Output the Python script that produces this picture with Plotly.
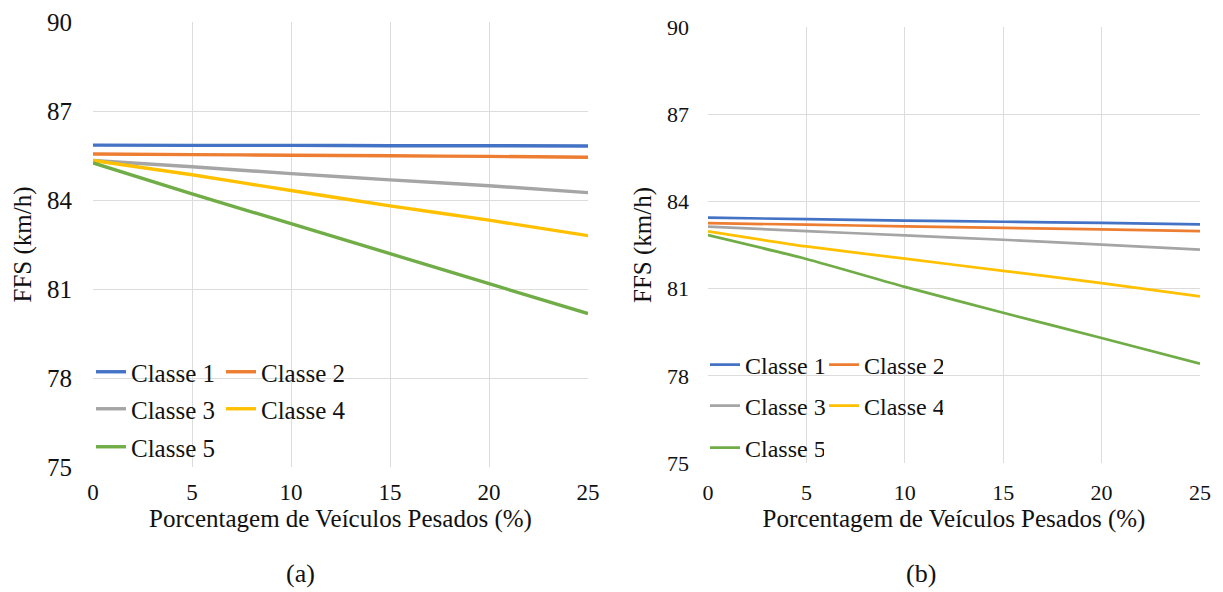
import plotly.graph_objects as go

W, H = 1223, 592

x_pct = [0, 5, 10, 15, 20, 25]
classes = ["Classe 1", "Classe 2", "Classe 3", "Classe 4", "Classe 5"]
colors = ["#4472C4", "#ED7D31", "#A5A5A5", "#FFC000", "#70AD47"]

# Panel (a)
ffs_a_c1 = [85.85, 85.84, 85.84, 85.83, 85.83, 85.82]
ffs_a_c2 = [85.55, 85.53, 85.51, 85.49, 85.47, 85.44]
ffs_a_c3 = [85.33, 85.12, 84.89, 84.68, 84.48, 84.25]
ffs_a_c4 = [85.33, 84.85, 84.32, 83.80, 83.32, 82.80]
ffs_a_c5 = [85.25, 84.21, 83.20, 82.19, 81.18, 80.17]

# Panel (b)
ffs_b_c1 = [83.44, 83.39, 83.34, 83.30, 83.26, 83.21]
ffs_b_c2 = [83.25, 83.20, 83.14, 83.09, 83.04, 82.98]
ffs_b_c3 = [83.13, 82.98, 82.83, 82.68, 82.51, 82.34]
ffs_b_c4 = [82.97, 82.45, 82.03, 81.61, 81.19, 80.73]
ffs_b_c5 = [82.84, 82.02, 81.06, 80.17, 79.30, 78.42]

y_ticks = [75, 78, 81, 84, 87, 90]
x_ticks = [0, 5, 10, 15, 20, 25]
x_title = "Porcentagem de Veículos Pesados (%)"
y_title = "FFS (km/h)"
captions = ["(a)", "(b)"]

FONT = "Liberation Serif"
TXT = "#111111"

series_a = [ffs_a_c1, ffs_a_c2, ffs_a_c3, ffs_a_c4, ffs_a_c5]
series_b = [ffs_b_c1, ffs_b_c2, ffs_b_c3, ffs_b_c4, ffs_b_c5]

# legend row assignment: rows of two items
row_of = [0, 0, 1, 1, 2]

fig = go.Figure()
for i, (name, col, ys) in enumerate(zip(classes, colors, series_a)):
    fig.add_trace(go.Scatter(
        x=x_pct, y=ys, mode="lines", name=name,
        line=dict(color=col, width=3.4, shape="spline", smoothing=0.6),
        xaxis="x", yaxis="y",
        legend="legend" if row_of[i] == 0 else f"legend{row_of[i] + 1}",
    ))
for i, (name, col, ys) in enumerate(zip(classes, colors, series_b)):
    fig.add_trace(go.Scatter(
        x=x_pct, y=ys, mode="lines", name=name,
        line=dict(color=col, width=2.7, shape="spline", smoothing=0.6),
        xaxis="x2", yaxis="y2",
        legend=f"legend{row_of[i] + 4}",
    ))

grid = "#dcdcdc"

def xaxis_cfg(domain, anchor, size, standoff):
    return dict(
        domain=domain, anchor=anchor, range=[0, 25], tickvals=x_ticks,
        showgrid=True, gridcolor=grid, gridwidth=1, zeroline=False,
        showline=False, ticks="", ticklabelstandoff=standoff, automargin=False,
        tickfont=dict(family=FONT, size=size, color=TXT),
        title=dict(text=x_title, standoff=0,
                   font=dict(family=FONT, size=25, color=TXT)),
    )

def yaxis_cfg(domain, anchor, size, standoff):
    return dict(
        domain=domain, anchor=anchor, range=[75, 90], tickvals=y_ticks,
        showgrid=True, gridcolor=grid, gridwidth=1, zeroline=False,
        showline=False, ticks="", ticklabelstandoff=standoff, automargin=False,
        tickfont=dict(family=FONT, size=size, color=TXT),
        title=dict(text=y_title, standoff=8,
                   font=dict(family=FONT, size=25, color=TXT)),
    )

def px_x(v):
    return v / W

def px_y(v):
    return 1 - v / H

layout = dict(
    template="none",
    width=W, height=H,
    margin=dict(l=0, r=0, t=0, b=0, autoexpand=False),
    paper_bgcolor="white", plot_bgcolor="white",
    font=dict(family=FONT, color=TXT),
    showlegend=True,
    xaxis=xaxis_cfg([px_x(93), px_x(588)], "y", 23, 9),
    yaxis=yaxis_cfg([px_y(467), px_y(22)], "x", 25, 20),
    xaxis2=xaxis_cfg([px_x(708), px_x(1200)], "y2", 22, 14),
    yaxis2=yaxis_cfg([px_y(463), px_y(27)], "x2", 22, 18),
)

leg_rows_a = [372, 409, 447]
leg_rows_b = [365, 406, 448]
for k in range(6):
    key = "legend" if k == 0 else f"legend{k + 1}"
    if k < 3:
        lx, ly, fs = 91, leg_rows_a[k], 25
    else:
        lx, ly, fs = 705, leg_rows_b[k - 3], 24
    layout[key] = dict(
        orientation="h", x=px_x(lx), y=px_y(ly), xanchor="left", yanchor="middle",
        xref="paper", yref="paper",
        bgcolor="rgba(0,0,0,0)", borderwidth=0,
        font=dict(family=FONT, size=fs, color=TXT),
        entrywidth=85 if k < 3 else 74, entrywidthmode="pixels",
        itemwidth=30, tracegroupgap=0,
    )

fig.update_layout(**layout)

fig.add_annotation(text=captions[0], x=px_x(300), y=px_y(573), xref="paper", yref="paper",
                   xanchor="center", yanchor="middle",
                   showarrow=False, font=dict(family=FONT, size=26, color=TXT))
fig.add_annotation(text=captions[1], x=px_x(921), y=px_y(573), xref="paper", yref="paper",
                   xanchor="center", yanchor="middle",
                   showarrow=False, font=dict(family=FONT, size=26, color=TXT))

fig.write_html("out.html")
